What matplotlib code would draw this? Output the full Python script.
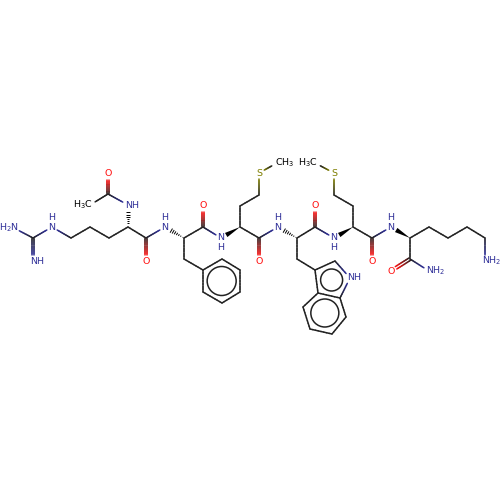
import numpy as np
import matplotlib
matplotlib.use("Agg")
import matplotlib.pyplot as plt
from matplotlib.collections import LineCollection
from matplotlib.patches import Circle, Polygon

plt.rcParams["mathtext.default"] = "regular"

# Atom positions: name -> (x px, y px)
atoms = {
 "N_gua2": (14, 228), "C_gua": (33, 238), "N_gua1": (52, 227), "N_gua3": (33, 261),
 "R_d": (71, 238), "R_g": (90, 227), "R_b": (109, 238), "R_a": (128, 227),
 "R_N": (128, 205), "Ac_C": (108, 194), "Ac_O": (108, 174), "Ac_Me": (90, 205),
 "R_C": (146, 238), "R_O": (146, 261),
 "F_N": (165, 227), "F_a": (184, 238), "F_C": (203, 227), "F_O": (203, 206), "F_b": (184, 259),
 "Ph1": (203, 270), "Ph2": (222, 259), "Ph3": (240, 270), "Ph4": (240, 292), "Ph5": (222, 303), "Ph6": (203, 292),
 "M_N": (221, 238), "M_a": (240, 227), "M_b": (240, 206), "M_g": (259, 195), "M_S": (259, 173), "M_Me": (277, 163),
 "M_C": (259, 238), "M_O": (259, 261),
 "W_N": (278, 227), "W_a": (297, 238), "W_C": (315, 227), "W_O": (315, 206), "W_b": (297, 259),
 "W3": (315, 270), "W2": (335, 261), "W1": (350, 278), "W7a": (340, 298), "W3a": (318, 293),
 "W4": (303, 307), "W5": (310, 329), "W6": (332, 334), "W7": (346, 317),
 "M2_N": (334, 238), "M2_a": (353, 227), "M2_b": (353, 206), "M2_g": (334, 195), "M2_S": (334, 173), "M2_Me": (315, 163),
 "M2_C": (372, 238), "M2_O": (372, 261),
 "K_N": (391, 227), "K_a": (410, 238), "K_b": (429, 227), "K_g": (448, 238), "K_d": (467, 227), "K_e": (485, 238),
 "K_NZ": (485, 261), "K_C": (410, 259), "K_O": (391, 271), "K_N2": (429, 271),
}

single_bonds = [
 ("N_gua2","C_gua"),("C_gua","N_gua1"),("N_gua1","R_d"),("R_d","R_g"),("R_g","R_b"),("R_b","R_a"),
 ("R_N","Ac_C"),("Ac_C","Ac_Me"),("R_a","R_C"),("R_C","F_N"),("F_a","F_C"),
 ("F_C","M_N"),("F_a","F_b"),("F_b","Ph1"),
 ("Ph1","Ph2"),("Ph2","Ph3"),("Ph3","Ph4"),("Ph4","Ph5"),("Ph5","Ph6"),("Ph6","Ph1"),
 ("M_a","M_b"),("M_b","M_g"),("M_g","M_S"),("M_S","M_Me"),("M_a","M_C"),("M_C","W_N"),
 ("W_a","W_C"),("W_C","M2_N"),("W_a","W_b"),("W_b","W3"),
 ("W3","W2"),("W2","W1"),("W1","W7a"),("W7a","W3a"),("W3a","W3"),
 ("W3a","W4"),("W4","W5"),("W5","W6"),("W6","W7"),("W7","W7a"),
 ("M2_a","M2_b"),("M2_b","M2_g"),("M2_g","M2_S"),("M2_S","M2_Me"),("M2_a","M2_C"),("M2_C","K_N"),
 ("K_a","K_b"),("K_b","K_g"),("K_g","K_d"),("K_d","K_e"),("K_e","K_NZ"),("K_a","K_C"),("K_C","K_N2"),
]
double_bonds = [("C_gua","N_gua3"),("Ac_C","Ac_O"),("R_C","R_O"),("F_C","F_O"),("M_C","M_O"),
                ("W_C","W_O"),("M2_C","M2_O"),("K_C","K_O")]
hashed_bonds = [("R_a","R_N"),("F_a","F_N"),("W_a","W_N")]
wedge_bonds = [("M_a","M_N"),("M2_a","M2_N"),("K_a","K_N")]
aromatic_rings = [(["Ph1","Ph2","Ph3","Ph4","Ph5","Ph6"], 14.5),
                  (["W3","W2","W1","W7a","W3a"], 11.0),
                  (["W3a","W4","W5","W6","W7","W7a"], 14.0)]

# atom -> (text, colour, x shift, y shift, ha)
NAVY, RED, OLIVE = "#2f2f98", "#ff1010", "#7f7f00"
labels = {
 "N_gua2": ("H$_2$N", NAVY, 4.5, 0, "right"), "N_gua1": ("H\nN", NAVY, 0, -4.5, "center"),
 "N_gua3": ("NH", NAVY, -3, 0, "left"), "R_N": ("NH", NAVY, -3, 0, "left"),
 "Ac_O": ("O", RED, 0, 0, "center"), "Ac_Me": ("H$_3$C", "black", 3, 0, "right"),
 "R_O": ("O", RED, 0, 0, "center"), "F_N": ("H\nN", NAVY, 0, -4.5, "center"),
 "F_O": ("O", RED, 0, 0, "center"), "M_N": ("N\nH", NAVY, 0, 4.5, "center"),
 "M_S": ("S", OLIVE, 0, 0, "center"), "M_Me": ("CH$_3$", "black", -2, 0, "left"),
 "M_O": ("O", RED, 0, 0, "center"), "W_N": ("H\nN", NAVY, 0, -4.5, "center"),
 "W_O": ("O", RED, 0, 0, "center"), "W1": ("NH", NAVY, -3, 0, "left"),
 "M2_N": ("N\nH", NAVY, 0, 4.5, "center"), "M2_S": ("S", OLIVE, 0, 0, "center"),
 "M2_Me": ("H$_3$C", "black", 3, 0, "right"), "M2_O": ("O", RED, 0, 0, "center"),
 "K_N": ("H\nN", NAVY, 0, -4.5, "center"), "K_NZ": ("NH$_2$", NAVY, -3, 0, "left"),
 "K_O": ("O", RED, 0, 0, "center"), "K_N2": ("NH$_2$", NAVY, -3, 0, "left"),
}

fig = plt.figure(figsize=(5, 5), dpi=100)
ax = fig.add_axes([0, 0, 1, 1])
ax.set_xlim(0, 500)
ax.set_ylim(500, 0)
ax.axis("off")

LW = 1.1
GAP = 6.0
BLACK = np.array(matplotlib.colors.to_rgb("#222222"))

def colour_of(name):
    if name in labels and labels[name][1] != "black":
        return np.array(matplotlib.colors.to_rgb(labels[name][1]))
    return BLACK

def trimmed(a, b):
    p, q = np.array(atoms[a], float), np.array(atoms[b], float)
    u = (q - p) / np.linalg.norm(q - p)
    if a in labels:
        p = p + u * GAP
    if b in labels:
        q = q - u * GAP
    return p, q, u

def gradient(a, b, off=0.0):
    p, q, u = trimmed(a, b)
    n = np.array([-u[1], u[0]]) * off
    ca, cb = colour_of(a), colour_of(b)
    ts = np.linspace(0, 1, 9)
    segs = [[p + n + (q - p) * ts[i], p + n + (q - p) * ts[i + 1]] for i in range(8)]
    cols = [ca + (cb - ca) * (ts[i] + ts[i + 1]) / 2 for i in range(8)]
    ax.add_collection(LineCollection(segs, colors=cols, linewidths=LW, capstyle="round"))

for a, b in single_bonds:
    gradient(a, b)
for a, b in double_bonds:
    gradient(a, b, 1.4)
    gradient(a, b, -1.4)

for a, b in wedge_bonds:
    p = np.array(atoms[a], float)
    q = np.array(atoms[b], float)
    u = (q - p) / np.linalg.norm(q - p)
    q = q - u * GAP
    n = np.array([-u[1], u[0]]) * 2.4
    ax.add_patch(Polygon([p, q + n, q - n], closed=True, fc="black", ec="none"))

for a, b in hashed_bonds:
    p = np.array(atoms[a], float)
    q = np.array(atoms[b], float)
    u = (q - p) / np.linalg.norm(q - p)
    end = q - u * GAP
    L = np.linalg.norm(end - p)
    n = np.array([-u[1], u[0]])
    for d in np.arange(1.5, L, 2.2):
        c = p + u * d
        w = 2.6 * d / L
        ax.plot(*zip(c - n * w, c + n * w), color="black", lw=0.7, solid_capstyle="butt")

for names, r in aromatic_rings:
    c = np.mean([atoms[n] for n in names], axis=0)
    ax.add_patch(Circle(c, r, fc="none", ec="#222222", lw=LW))

for name, (txt, col, dx, dy, ha) in labels.items():
    x, y = atoms[name]
    ax.text(x + dx, y + dy, txt, color=col, ha=ha, va="center", fontsize=6.8,
            family="DejaVu Sans", linespacing=1.0)

fig.savefig("out.png", dpi=100, facecolor="white")
